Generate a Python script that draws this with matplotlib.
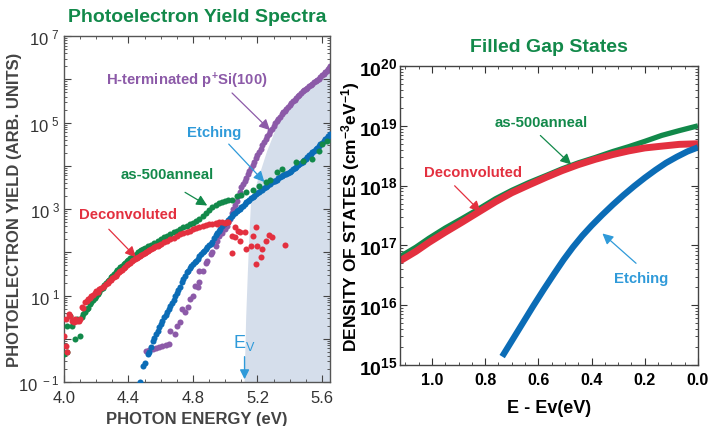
import numpy as np
import matplotlib
matplotlib.use("Agg")
import matplotlib.pyplot as plt
from matplotlib.ticker import FixedLocator, MultipleLocator, NullFormatter

plt.rcParams['font.family'] = ['Liberation Sans', 'DejaVu Sans']
plt.rcParams['mathtext.fontset'] = 'custom'
plt.rcParams['mathtext.rm'] = 'Liberation Sans'
plt.rcParams['mathtext.bf'] = 'Liberation Sans:bold'
plt.rcParams['mathtext.default'] = 'regular'

# colours
GREEN = '#12894a'
RED = '#e3303f'
BLUE = '#0b6cb6'
PURPLE = '#8c5aa8'
LBLUE = '#2f9ad9'
SHADE = '#d5deeb'

# ---- left panel: photoelectron yield (log10 of yield) ----
green_e = [4.00, 4.02, 4.02, 4.04, 4.05, 4.07, 4.08, 4.10, 4.11, 4.12, 4.13, 4.14, 4.15, 4.16,
           4.17, 4.18, 4.19, 4.20, 4.21, 4.22, 4.23, 4.24, 4.25, 4.26, 4.27, 4.28, 4.29, 4.30,
           4.31, 4.32, 4.33, 4.34, 4.35, 4.36, 4.37, 4.38, 4.39, 4.40, 4.41, 4.42, 4.43, 4.44,
           4.45, 4.46, 4.47, 4.48, 4.49, 4.50, 4.52, 4.54, 4.56, 4.58, 4.60, 4.62, 4.64, 4.66,
           4.68, 4.70, 4.72, 4.74, 4.76, 4.78, 4.80, 4.82, 4.84, 4.86, 4.88, 4.90, 4.92, 4.94,
           4.96, 4.98, 5.00, 5.02, 5.04, 5.07, 5.10, 5.13, 5.17, 5.21, 5.25, 5.28, 5.32, 5.35,
           5.44, 5.48, 5.54, 5.58, 5.60, 5.63]
green_log = [-0.35, 0.29, -0.31, 0.53, 0.30, 0.00, 0.45, 0.07, 0.50, 0.57, 0.62, 0.70, 0.72, 0.80,
             0.85, 0.90, 0.95, 1.00, 1.04, 1.08, 1.15, 1.18, 1.24, 1.28, 1.33, 1.37, 1.43, 1.46,
             1.50, 1.54, 1.58, 1.62, 1.65, 1.69, 1.72, 1.76, 1.79, 1.82, 1.86, 1.88, 1.91, 1.94,
             1.97, 2.00, 2.03, 2.05, 2.08, 2.10, 2.14, 2.18, 2.22, 2.26, 2.30, 2.35, 2.38, 2.42,
             2.46, 2.50, 2.54, 2.58, 2.62, 2.65, 2.68, 2.72, 2.77, 2.83, 2.90, 2.98, 3.05, 3.10,
             3.14, 3.17, 3.19, 3.20, 3.21, 3.30, 3.32, 3.39, 3.45, 3.53, 3.62, 3.68, 3.86, 3.93,
             4.09, 4.11, 4.16, 4.34, 4.50, 4.57]

red_e = [4.00, 4.01, 4.01, 4.02, 4.03, 4.04, 4.05, 4.06, 4.07, 4.08, 4.09, 4.10, 4.11, 4.12,
         4.13, 4.14, 4.15, 4.16, 4.17, 4.18, 4.19, 4.20, 4.21, 4.22, 4.23, 4.24, 4.25, 4.26,
         4.27, 4.28, 4.29, 4.30, 4.31, 4.32, 4.33, 4.34, 4.35, 4.36, 4.37, 4.38, 4.39, 4.40,
         4.41, 4.42, 4.43, 4.44, 4.45, 4.46, 4.47, 4.48, 4.49, 4.50, 4.51, 4.52, 4.53, 4.54,
         4.55, 4.56, 4.57, 4.58, 4.59, 4.60, 4.62, 4.64, 4.66, 4.68, 4.70, 4.72, 4.74, 4.76,
         4.78, 4.80, 4.82, 4.84, 4.86, 4.88, 4.90, 4.92, 4.94, 4.95, 4.96, 4.98, 5.00, 5.01,
         5.02, 5.04, 5.04, 5.06, 5.06, 5.08, 5.09, 5.09, 5.12, 5.13, 5.16, 5.17, 5.19, 5.19,
         5.20, 5.22, 5.23, 5.25, 5.27, 5.29, 5.37]
red_log = [0.07, -0.17, 0.46, -0.31, 0.57, 0.53, 0.42, 0.39, 0.45, 0.42, 0.40, 0.45, 0.73, 0.72,
           0.85, 0.88, 0.92, 0.95, 1.00, 1.02, 1.06, 1.10, 1.08, 1.14, 1.18, 1.20, 1.22, 1.27,
           1.30, 1.33, 1.36, 1.40, 1.44, 1.46, 1.50, 1.54, 1.56, 1.60, 1.63, 1.66, 1.70, 1.73,
           1.76, 1.79, 1.82, 1.84, 1.87, 1.89, 1.92, 1.94, 1.97, 1.99, 2.01, 2.04, 2.06, 2.08,
           2.10, 2.12, 2.14, 2.15, 2.17, 2.19, 2.23, 2.27, 2.30, 2.34, 2.38, 2.42, 2.45, 2.47,
           2.50, 2.53, 2.56, 2.58, 2.60, 2.63, 2.65, 2.66, 2.68, 2.65, 2.70, 2.70, 2.68, 2.71,
           2.69, 2.38, 1.98, 2.58, 2.35, 2.49, 2.47, 2.26, 2.47, 2.07, 2.14, 2.38, 2.58, 1.73,
           2.14, 1.89, 2.07, 2.26, 2.40, 2.35, 2.17]

blue_e = [4.47, 4.49, 4.50, 4.52, 4.53, 4.54, 4.55, 4.56, 4.57, 4.58, 4.59, 4.60, 4.61, 4.62,
          4.63, 4.64, 4.65, 4.66, 4.67, 4.68, 4.69, 4.70, 4.71, 4.72, 4.73, 4.74, 4.75, 4.76,
          4.77, 4.78, 4.79, 4.80, 4.81, 4.82, 4.83, 4.84, 4.85, 4.86, 4.87, 4.88, 4.89, 4.90,
          4.91, 4.92, 4.93, 4.94, 4.95, 4.96, 4.97, 4.98, 4.99, 5.00, 5.01, 5.02, 5.03, 5.04,
          5.05, 5.06, 5.07, 5.08, 5.09, 5.10, 5.11, 5.12, 5.13, 5.14, 5.15, 5.16, 5.17, 5.18,
          5.19, 5.20, 5.21, 5.22, 5.23, 5.24, 5.25, 5.26, 5.27, 5.28, 5.29, 5.30, 5.31, 5.32,
          5.33, 5.34, 5.35, 5.36, 5.37, 5.38, 5.39, 5.40, 5.41, 5.42, 5.43, 5.44, 5.45, 5.46,
          5.47, 5.48, 5.49, 5.50, 5.51, 5.52, 5.53, 5.54, 5.55, 5.56, 5.57, 5.58, 5.59, 5.60,
          5.61, 5.62, 5.63, 5.64, 5.65]
blue_log = [-1.00, -0.63, -0.55, -0.35, -0.30, -0.20, -0.05, 0.02, 0.10, 0.18, 0.27, 0.35, 0.42, 0.50,
            0.55, 0.62, 0.70, 0.76, 0.83, 0.90, 0.99, 1.05, 1.12, 1.20, 1.31, 1.38, 1.45, 1.54,
            1.57, 1.63, 1.69, 1.73, 1.77, 1.80, 1.85, 1.91, 1.95, 2.00, 2.04, 2.08, 2.13, 2.17,
            2.20, 2.24, 2.32, 2.40, 2.45, 2.50, 2.55, 2.60, 2.65, 2.68, 2.70, 2.75, 2.80, 2.84,
            2.88, 2.92, 2.95, 2.97, 3.00, 3.04, 3.08, 3.12, 3.16, 3.19, 3.22, 3.25, 3.28, 3.31,
            3.35, 3.38, 3.40, 3.43, 3.45, 3.48, 3.51, 3.54, 3.57, 3.59, 3.62, 3.64, 3.66, 3.68,
            3.71, 3.74, 3.76, 3.78, 3.80, 3.82, 3.84, 3.86, 3.89, 3.92, 3.95, 3.98, 4.01, 4.04,
            4.07, 4.10, 4.13, 4.16, 4.20, 4.24, 4.28, 4.32, 4.35, 4.38, 4.42, 4.46, 4.50, 4.53,
            4.57, 4.61, 4.65, 4.69, 4.73]

purple_e = [4.51, 4.53, 4.55, 4.57, 4.59, 4.61, 4.63, 4.65, 4.66, 4.69, 4.70, 4.72, 4.73, 4.75,
            4.77, 4.78, 4.80, 4.81, 4.83, 4.84, 4.84, 4.86, 4.88, 4.89, 4.91, 4.92, 4.94, 4.95,
            4.96, 4.98, 5.00, 5.01, 5.02, 5.03, 5.04, 5.05, 5.06, 5.07, 5.08, 5.09, 5.10, 5.11,
            5.12, 5.13, 5.14, 5.15, 5.16, 5.17, 5.18, 5.19, 5.20, 5.21, 5.22, 5.23, 5.24, 5.25,
            5.26, 5.27, 5.28, 5.29, 5.30, 5.31, 5.32, 5.33, 5.34, 5.35, 5.36, 5.37, 5.38, 5.39,
            5.40, 5.41, 5.42, 5.43, 5.44, 5.45, 5.46, 5.47, 5.48, 5.49, 5.50, 5.51, 5.52, 5.53,
            5.54, 5.55, 5.56, 5.57, 5.58, 5.59, 5.60, 5.61, 5.62, 5.63, 5.64, 5.65]
purple_log = [-0.28, -0.26, -0.24, -0.21, -0.19, -0.17, -0.15, -0.12, 0.18, 0.12, 0.30, 0.39, 0.69, 0.62,
              0.73, 0.92, 1.00, 1.22, 1.20, 1.31, 1.57, 1.57, 1.75, 1.80, 1.95, 2.00, 2.15, 2.26,
              2.38, 2.45, 2.55, 2.61, 2.70, 2.77, 2.90, 3.00, 3.10, 3.19, 3.30, 3.40, 3.50, 3.58,
              3.66, 3.72, 3.80, 3.88, 3.95, 4.02, 4.10, 4.18, 4.25, 4.32, 4.40, 4.48, 4.55, 4.62,
              4.68, 4.74, 4.80, 4.86, 4.92, 4.98, 5.04, 5.09, 5.14, 5.19, 5.24, 5.28, 5.32, 5.37,
              5.41, 5.45, 5.49, 5.53, 5.57, 5.61, 5.65, 5.69, 5.72, 5.75, 5.78, 5.81, 5.84, 5.87,
              5.90, 5.93, 5.96, 5.99, 6.02, 6.06, 6.09, 6.12, 6.16, 6.20, 6.25, 6.30]

# shaded region (left edge + upper edge)
shade_e = [5.12, 5.13, 5.14, 5.15, 5.16, 5.21, 5.26, 5.29, 5.32, 5.38, 5.48, 5.58, 5.65]
shade_log = [-1.0, 0.5, 1.5, 2.4, 3.16, 3.76, 4.34, 4.62, 4.92, 5.22, 5.70, 6.07, 6.28]

# ---- right panel: density of states (log10) vs E - Ev ----
anneal_ev = [1.12, 1.06, 1.011, 0.95, 0.886, 0.82, 0.761, 0.70, 0.636, 0.57, 0.511, 0.45,
             0.386, 0.32, 0.261, 0.20, 0.136, 0.07, 0.0]
anneal_log = [16.81, 16.97, 17.12, 17.29, 17.45, 17.62, 17.78, 17.92, 18.05, 18.17, 18.28, 18.38,
              18.47, 18.57, 18.65, 18.74, 18.84, 18.92, 19.0]
deconv_ev = [1.12, 1.06, 1.011, 0.95, 0.886, 0.82, 0.761, 0.70, 0.636, 0.57, 0.511, 0.45,
             0.386, 0.32, 0.261, 0.20, 0.136, 0.07, 0.0]
deconv_log = [16.74, 16.90, 17.05, 17.22, 17.39, 17.57, 17.73, 17.88, 18.01, 18.14, 18.25, 18.35,
              18.44, 18.52, 18.58, 18.63, 18.66, 18.69, 18.70]
etch_ev = [0.736, 0.70, 0.66, 0.62, 0.58, 0.54, 0.505, 0.47, 0.435, 0.40, 0.36, 0.32, 0.28,
           0.24, 0.20, 0.16, 0.12, 0.08, 0.04, 0.0]
etch_log = [15.14, 15.40, 15.69, 15.98, 16.26, 16.53, 16.76, 16.97, 17.16, 17.33, 17.51, 17.68,
            17.84, 17.99, 18.13, 18.26, 18.38, 18.48, 18.57, 18.64]


def p(v):
    return 10.0 ** np.asarray(v)


fig = plt.figure(figsize=(7.12, 4.27), dpi=100)

# ================= left =================
ax1 = fig.add_axes([0.0899, 0.103, 0.3736, 0.810])
poly_e = list(shade_e) + [5.65]
poly_log = list(shade_log) + [-1.0]
ax1.fill(poly_e, p(poly_log), color=SHADE, lw=0, zorder=0)

ms = 19
ax1.scatter(purple_e, p(purple_log), s=ms, color=PURPLE, lw=0, zorder=2)
ax1.scatter(blue_e, p(blue_log), s=ms, color=BLUE, lw=0, zorder=3)
ax1.scatter(green_e, p(green_log), s=ms, color=GREEN, lw=0, zorder=3)
ax1.scatter(red_e, p(red_log), s=ms, color=RED, lw=0, zorder=4)

ax1.set_yscale('log')
ax1.set_xlim(4.0, 5.65)
ax1.set_ylim(1e-1, 1e7)
ax1.xaxis.set_major_locator(FixedLocator([4.0, 4.4, 4.8, 5.2, 5.6]))
ax1.xaxis.set_minor_locator(MultipleLocator(0.1))
ax1.set_xticklabels(['4.0', '4.4', '4.8', '5.2', '5.6'])
ax1.yaxis.set_major_locator(FixedLocator([10.0 ** k for k in range(-1, 8)]))
ax1.set_yticklabels(['10$^{\\ %d}$' % k if k % 2 else '' for k in range(-1, 8)])
ax1.yaxis.set_minor_locator(FixedLocator([m * 10.0 ** k for k in range(-1, 7) for m in range(2, 10)]))
ax1.yaxis.set_minor_formatter(NullFormatter())
ax1.tick_params(which='both', direction='in', top=True, right=True, colors='#444444',
                labelcolor='#333333')
ax1.tick_params(which='major', length=5, width=0.8)
ax1.tick_params(which='minor', length=2.5, width=0.6)
ax1.tick_params(axis='y', labelsize=12, pad=3)
ax1.tick_params(axis='x', labelsize=12, pad=6)
for s in ax1.spines.values():
    s.set_color('#555555')
    s.set_linewidth(1.0)
ax1.set_xlabel('PHOTON ENERGY (eV)', fontsize=12, fontweight='bold', color='#444444', labelpad=4)
ax1.set_ylabel('PHOTOELECTRON YIELD (ARB. UNITS)', fontsize=12, fontweight='bold',
               color='#444444')
ax1.yaxis.set_label_coords(-0.158, 0.5)
ax1.set_title('Photoelectron Yield Spectra', fontsize=14, fontweight='bold', color=GREEN, pad=11)

ann = dict(fontsize=10.7, fontweight='bold', ha='center', va='center')
ax1.text(4.76, p(5.98), 'H-terminated p$^{\\mathbf{+}}$Si(100)', color=PURPLE, **ann)
ax1.annotate('', xy=(5.29, p(4.78)), xytext=(5.03, p(5.73)),
             arrowprops=dict(arrowstyle='-|>', color=PURPLE, lw=0.9, mutation_scale=16))
ax1.text(4.93, p(4.78), 'Etching', color=LBLUE, **ann)
ax1.annotate('', xy=(5.255, p(3.58)), xytext=(5.01, p(4.55)),
             arrowprops=dict(arrowstyle='-|>', color=LBLUE, lw=0.9, mutation_scale=16))
ax1.text(4.643, p(3.81), 'as-500anneal', color=GREEN, **ann)
ax1.annotate('', xy=(4.903, p(3.05)), xytext=(4.736, p(3.42)),
             arrowprops=dict(arrowstyle='-|>', color=GREEN, lw=0.9, mutation_scale=16))
ax1.text(4.396, p(2.88), 'Deconvoluted', color=RED, **ann)
ax1.annotate('', xy=(4.458, p(1.84)), xytext=(4.266, p(2.58)),
             arrowprops=dict(arrowstyle='-|>', color=RED, lw=0.9, mutation_scale=16))
ax1.text(5.12, p(-0.08), 'E$_{V}$', color=LBLUE, fontsize=13, ha='center', va='center')
ax1.annotate('', xy=(5.12, p(-1.0)), xytext=(5.12, p(-0.35)),
             arrowprops=dict(arrowstyle='-|>', color=LBLUE, lw=1.0, mutation_scale=14),
             annotation_clip=False)

# ================= right =================
ax2 = fig.add_axes([0.5618, 0.143, 0.4185, 0.700])
ax2.plot(anneal_ev, p(anneal_log), color=GREEN, lw=3.8, solid_capstyle='butt')
ax2.plot(deconv_ev, p(deconv_log), color=RED, lw=5.0, solid_capstyle='butt')
ax2.plot(etch_ev, p(etch_log), color=BLUE, lw=4.5, solid_capstyle='butt')
ax2.set_yscale('log')
ax2.set_xlim(1.12, 0.0)
ax2.set_ylim(1e15, 1e20)
ax2.xaxis.set_major_locator(FixedLocator([1.0, 0.8, 0.6, 0.4, 0.2, 0.0]))
ax2.set_xticklabels(['1.0', '0.8', '0.6', '0.4', '0.2', '0.0'], fontweight='bold')
ax2.xaxis.set_minor_locator(MultipleLocator(0.05))
ax2.yaxis.set_major_locator(FixedLocator([10.0 ** k for k in range(15, 21)]))
ax2.set_yticklabels(['$\\mathbf{10^{%d}}$' % k for k in range(15, 21)])
ax2.yaxis.set_minor_locator(FixedLocator([m * 10.0 ** k for k in range(15, 20) for m in range(2, 10)]))
ax2.yaxis.set_minor_formatter(NullFormatter())
ax2.tick_params(which='both', direction='in', top=True, right=True, colors='#333333',
                labelcolor='black')
ax2.tick_params(which='major', length=5, width=0.8)
ax2.tick_params(which='minor', length=2.5, width=0.6)
ax2.tick_params(axis='y', labelsize=14, pad=2)
ax2.tick_params(axis='x', labelsize=11.5, pad=5)
for s in ax2.spines.values():
    s.set_color('#444444')
    s.set_linewidth(1.0)
ax2.set_xlabel('E - Ev(eV)', fontsize=13, fontweight='bold', labelpad=9)
ax2.set_ylabel('DENSITY OF STATES (cm$^{\\mathbf{-3}}$eV$^{\\mathbf{-1}}$)', fontsize=12.5,
               fontweight='bold')
ax2.yaxis.set_label_coords(-0.128, 0.5)
ax2.set_title('Filled Gap States', fontsize=14, fontweight='bold', color=GREEN, pad=11)

ax2.text(0.589, p(19.07), 'as-500anneal', color=GREEN, **ann)
ax2.annotate('', xy=(0.469, p(18.32)), xytext=(0.60, p(18.87)),
             arrowprops=dict(arrowstyle='-|>', color=GREEN, lw=0.9, mutation_scale=16))
ax2.text(0.844, p(18.23), 'Deconvoluted', color=RED, **ann)
ax2.annotate('', xy=(0.81, p(17.53)), xytext=(0.922, p(18.03)),
             arrowprops=dict(arrowstyle='-|>', color=RED, lw=0.9, mutation_scale=16))
ax2.text(0.214, p(16.45), 'Etching', color=LBLUE, **ann)
ax2.annotate('', xy=(0.367, p(17.23)), xytext=(0.225, p(16.67)),
             arrowprops=dict(arrowstyle='-|>', color=LBLUE, lw=0.9, mutation_scale=16))

fig.savefig('out.png', dpi=100)
